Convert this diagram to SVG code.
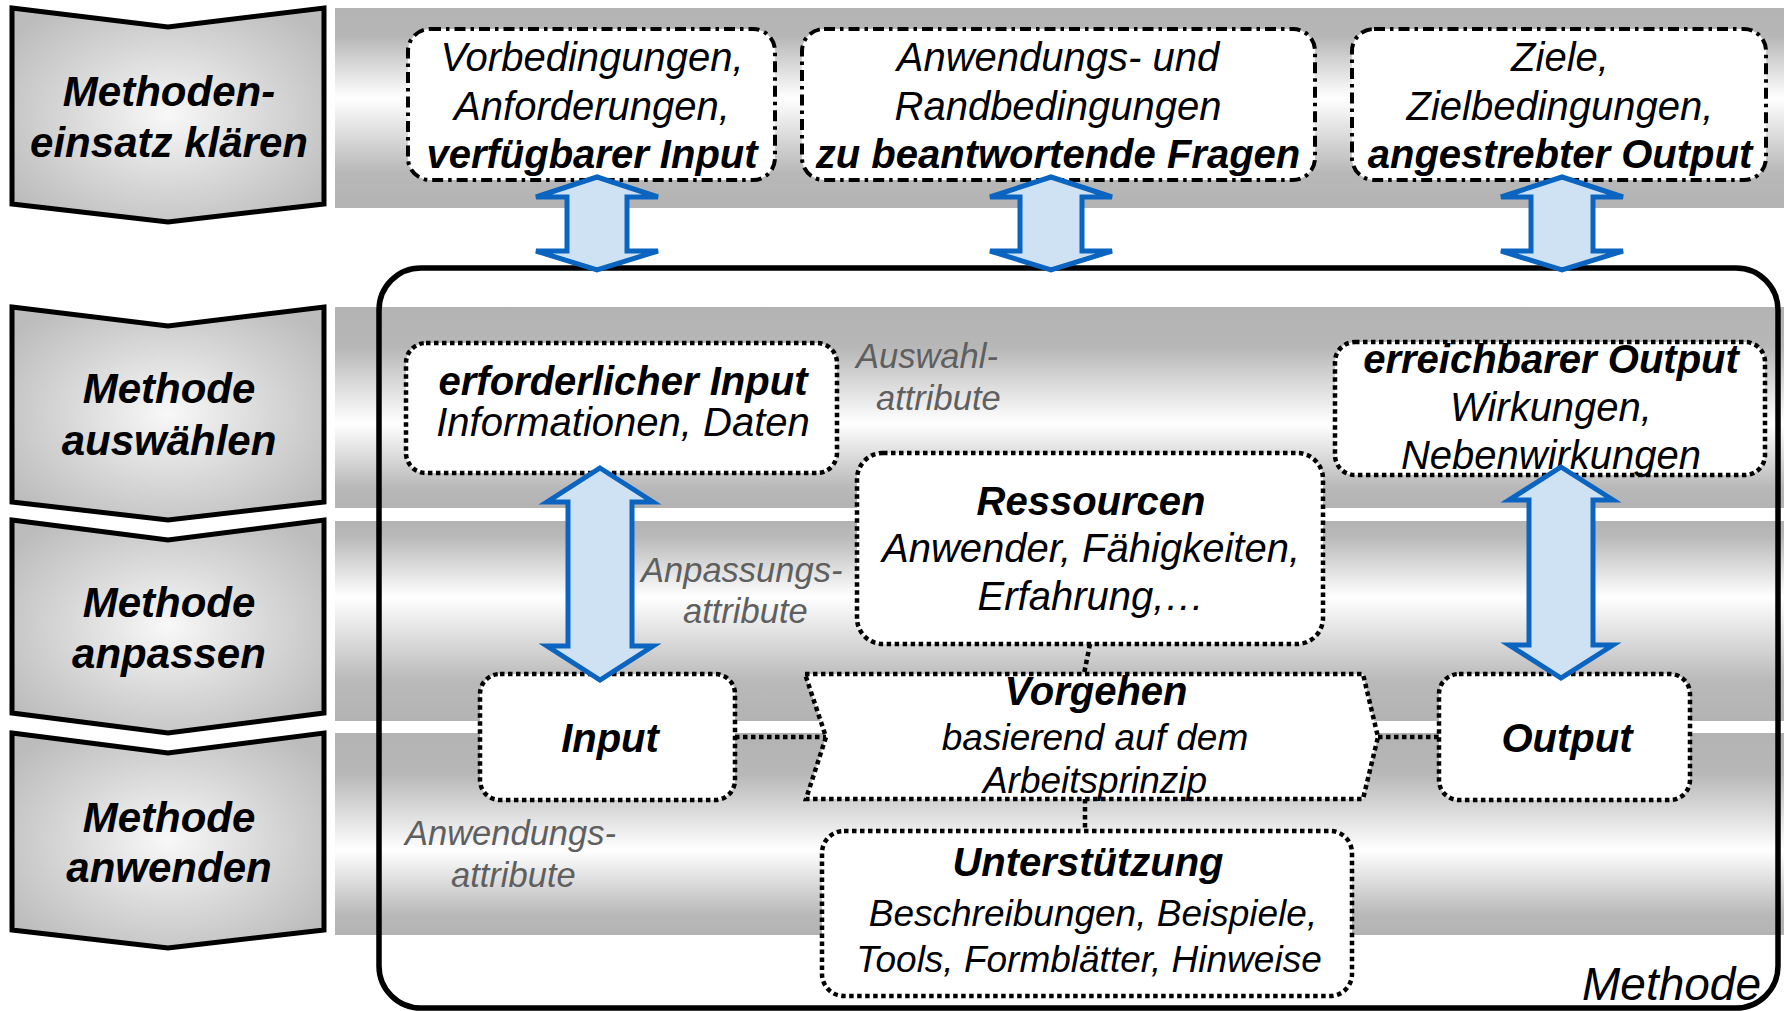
<svg xmlns="http://www.w3.org/2000/svg" width="1784" height="1011" viewBox="0 0 1784 1011">
  <defs>
    <linearGradient id="bandA" x1="0" y1="0" x2="0" y2="1">
      <stop offset="0" stop-color="#b3b3b3"/>
      <stop offset="0.14" stop-color="#b6b6b6"/>
      <stop offset="0.45" stop-color="#ffffff"/>
      <stop offset="0.82" stop-color="#b8b8b8"/>
      <stop offset="1" stop-color="#b3b3b3"/>
    </linearGradient>
    <linearGradient id="bandB" x1="0" y1="0" x2="0" y2="1">
      <stop offset="0" stop-color="#b3b3b3"/>
      <stop offset="0.2" stop-color="#b7b7b7"/>
      <stop offset="0.58" stop-color="#ffffff"/>
      <stop offset="0.9" stop-color="#b8b8b8"/>
      <stop offset="1" stop-color="#b3b3b3"/>
    </linearGradient>
    <linearGradient id="bandC" x1="0" y1="0" x2="0" y2="1">
      <stop offset="0" stop-color="#b3b3b3"/>
      <stop offset="0.08" stop-color="#b9b9b9"/>
      <stop offset="0.38" stop-color="#ffffff"/>
      <stop offset="0.8" stop-color="#b9b9b9"/>
      <stop offset="1" stop-color="#b3b3b3"/>
    </linearGradient>
    <radialGradient id="chev" cx="0.5" cy="0.5" r="0.62">
      <stop offset="0" stop-color="#f8f8f8"/>
      <stop offset="0.55" stop-color="#d6d6d6"/>
      <stop offset="1" stop-color="#bcbcbc"/>
    </radialGradient>
    <style>
      .chevron { fill: url(#chev); stroke: #000; stroke-width: 5; stroke-linejoin: miter; }
      .frame { fill: none; stroke: #000; stroke-width: 5.5; }
      .dashdot { fill: #fff; stroke: #000; stroke-width: 4; stroke-dasharray: 11 5 3.5 5; }
      .dotted { fill: #fff; stroke: #000; stroke-width: 4.5; stroke-dasharray: 4.5 3.5; }
      .conn { fill: none; stroke: #000; stroke-width: 4.5; stroke-dasharray: 4.5 3.5; }
      .dbl { fill: #cfe2f3; stroke: #0a64c0; stroke-width: 5; stroke-linejoin: miter; }
      text { font-family: "Liberation Sans", Arial, sans-serif; font-style: italic; fill: #000; }
      .phase { font-size: 42px; font-weight: bold; text-anchor: middle; }
      .t { font-size: 40px; text-anchor: middle; }
      .s { font-size: 37px; text-anchor: middle; }
      .b { font-weight: bold; }
      .attr { font-size: 34.5px; fill: #5f5f5f; }
      .title { font-size: 46px; text-anchor: end; }
    </style>
  </defs>

  <!-- horizontal phase bands -->
  <g id="bands">
    <rect x="335" y="8" width="1449" height="200" fill="url(#bandA)"/>
    <rect x="335" y="307" width="1449" height="201" fill="url(#bandB)"/>
    <rect x="335" y="521" width="1449" height="200" fill="url(#bandC)"/>
    <rect x="335" y="733" width="1449" height="202" fill="url(#bandB)"/>
  </g>

  <!-- phase chevrons -->
  <g id="phase-klaeren">
    <path class="chevron" d="M12,8 L168,27 L324,8 L324,204 L168,222 L12,204 Z"/>
    <text class="phase" x="169" y="106">Methoden-</text>
    <text class="phase" x="169" y="157">einsatz klären</text>
  </g>
  <g id="phase-auswaehlen">
    <path class="chevron" d="M12,307 L168,326 L324,307 L324,502 L168,520 L12,502 Z"/>
    <text class="phase" x="169" y="403">Methode</text>
    <text class="phase" x="169" y="455">auswählen</text>
  </g>
  <g id="phase-anpassen">
    <path class="chevron" d="M12,520 L168,540 L324,520 L324,713 L168,733 L12,713 Z"/>
    <text class="phase" x="169" y="617">Methode</text>
    <text class="phase" x="169" y="668">anpassen</text>
  </g>
  <g id="phase-anwenden">
    <path class="chevron" d="M12,733 L168,753 L324,733 L324,930 L168,948 L12,930 Z"/>
    <text class="phase" x="169" y="832">Methode</text>
    <text class="phase" x="169" y="882">anwenden</text>
  </g>

  <!-- method frame -->
  <g id="methode">
    <rect class="frame" x="379" y="268" width="1399" height="740" rx="42" ry="42"/>
    <text class="title" x="1761" y="1000">Methode</text>
  </g>

  <!-- context boxes -->
  <g id="vorbedingungen">
    <rect class="dashdot" x="408" y="29" width="367" height="151" rx="22"/>
    <text class="t" x="592" y="71">Vorbedingungen,</text>
    <text class="t" x="592" y="120">Anforderungen,</text>
    <text class="t b" x="592" y="168">verfügbarer Input</text>
  </g>
  <g id="randbedingungen">
    <rect class="dashdot" x="802" y="29" width="513" height="151" rx="22"/>
    <text class="t" x="1058" y="71">Anwendungs- und</text>
    <text class="t" x="1058" y="120">Randbedingungen</text>
    <text class="t b" x="1058" y="168">zu beantwortende Fragen</text>
  </g>
  <g id="ziele">
    <rect class="dashdot" x="1352" y="29" width="414" height="151" rx="22"/>
    <text class="t" x="1560" y="71">Ziele,</text>
    <text class="t" x="1560" y="120">Zielbedingungen,</text>
    <text class="t b" x="1560" y="168">angestrebter Output</text>
  </g>

  <!-- method contents -->
  <g id="erforderlicher-input">
    <rect class="dotted" x="406" y="343" width="431" height="130" rx="20"/>
    <text class="t b" x="623" y="395">erforderlicher Input</text>
    <text class="t" x="623" y="436">Informationen, Daten</text>
  </g>
  <g id="erreichbarer-output">
    <rect class="dotted" x="1335" y="342" width="430" height="133" rx="20"/>
    <text class="t b" x="1551" y="373">erreichbarer Output</text>
    <text class="t" x="1551" y="421">Wirkungen,</text>
    <text class="t" x="1551" y="469">Nebenwirkungen</text>
  </g>
  <g id="ressourcen">
    <rect class="dotted" x="857" y="453" width="466" height="191" rx="26"/>
    <text class="t b" x="1091" y="515">Ressourcen</text>
    <text class="t" x="1091" y="562">Anwender, Fähigkeiten,</text>
    <text class="t" x="1091" y="610">Erfahrung,…</text>
  </g>
  <g id="input">
    <rect class="dotted" x="480" y="674" width="255" height="126" rx="20"/>
    <text class="t b" x="610" y="752">Input</text>
  </g>
  <g id="vorgehen">
    <path class="dotted" d="M805,674 L1363,674 L1378,737 L1363,799 L806,799 L826,737 Z"/>
    <text class="t b" x="1096" y="705">Vorgehen</text>
    <text class="s" x="1095" y="750">basierend auf dem</text>
    <text class="s" x="1095" y="793">Arbeitsprinzip</text>
  </g>
  <g id="output">
    <rect class="dotted" x="1439" y="674" width="251" height="126" rx="20"/>
    <text class="t b" x="1567" y="752">Output</text>
  </g>
  <g id="unterstuetzung">
    <rect class="dotted" x="822" y="831" width="530" height="165" rx="22"/>
    <text class="t b" x="1088" y="876">Unterstützung</text>
    <text class="s" x="1093" y="926">Beschreibungen, Beispiele,</text>
    <text class="s" x="1089" y="972">Tools, Formblätter, Hinweise</text>
  </g>

  <!-- attribute labels -->
  <g id="labels">
    <text class="attr" x="856" y="368">Auswahl-</text>
    <text class="attr" x="876" y="410">attribute</text>
    <text class="attr" x="641" y="582">Anpassungs-</text>
    <text class="attr" x="683" y="623">attribute</text>
    <text class="attr" x="405" y="845">Anwendungs-</text>
    <text class="attr" x="451" y="887">attribute</text>
  </g>

  <!-- connectors -->
  <g id="connectors">
    <line class="conn" x1="735" y1="737" x2="826" y2="737"/>
    <line class="conn" x1="1378" y1="737" x2="1439" y2="737"/>
    <line class="conn" x1="1090" y1="644" x2="1084" y2="674"/>
    <line class="conn" x1="1085" y1="799" x2="1085" y2="831"/>
    <path class="dbl" d="M597,177 L658,197 L627,197 L627,251 L658,251 L597,270 L536,251 L567,251 L567,197 L536,197 Z"/>
    <path class="dbl" d="M1051,177 L1112,197 L1082,197 L1082,251 L1112,251 L1051,270 L990,251 L1020,251 L1020,197 L990,197 Z"/>
    <path class="dbl" d="M1562,177 L1623,197 L1593,197 L1593,251 L1623,251 L1562,270 L1501,251 L1531,251 L1531,197 L1501,197 Z"/>
    <path class="dbl" d="M600,468 L653,502 L632,502 L632,646 L653,646 L600,680 L547,646 L568,646 L568,502 L547,502 Z"/>
    <path class="dbl" d="M1561,467 L1613,500 L1593,500 L1593,645 L1613,645 L1561,678 L1509,645 L1529,645 L1529,500 L1509,500 Z"/>
  </g>
</svg>
